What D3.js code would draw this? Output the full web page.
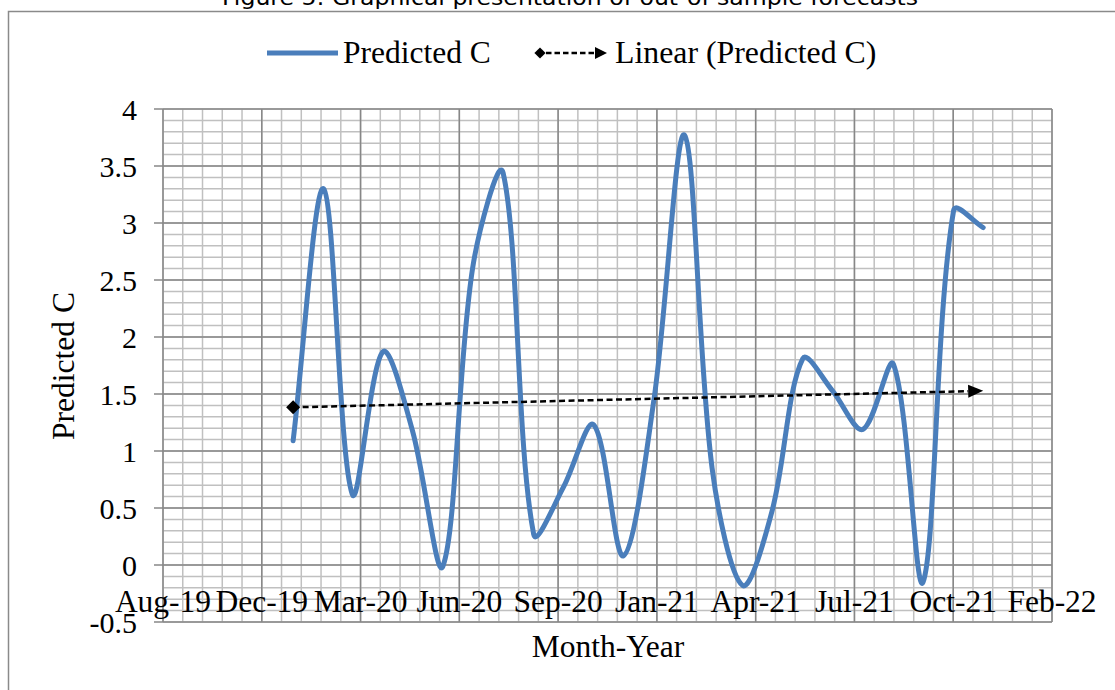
<!DOCTYPE html>
<html>
<head>
<meta charset="utf-8">
<script src="https://d3js.org/d3.v7.min.js"></script>
<style>
  html, body { margin: 0; padding: 0; background: #fff; }
  svg { display: block; }
</style>
</head>
<body>
<svg id="chart" width="1115" height="690"></svg>
<script>
// ---------- data ----------
const titleText = "Figure 5: Graphical presentation of out-of-sample forecasts";
const seriesName = "Predicted C";
const trendName = "Linear (Predicted C)";
const xAxisTitle = "Month-Year";
const yAxisTitle = "Predicted C";

const months = [
  "2020-01-01","2020-02-01","2020-03-01","2020-04-01","2020-05-01","2020-06-01",
  "2020-07-01","2020-08-01","2020-09-01","2020-10-01","2020-11-01","2020-12-01",
  "2021-01-01","2021-02-01","2021-03-01","2021-04-01","2021-05-01","2021-06-01",
  "2021-07-01","2021-08-01","2021-09-01","2021-10-01","2021-11-01","2021-12-01"
];
const predictedC = [
  1.09, 3.30, 0.62, 1.87, 1.18, -0.01,
  2.60, 3.44, 0.27, 0.68, 1.23, 0.08,
  1.45, 3.77, 0.85, -0.18, 0.48, 1.81,
  1.53, 1.19, 1.76, -0.15, 3.11, 2.96
];
const xTickLabels = ["Aug-19","Dec-19","Mar-20","Jun-20","Sep-20","Jan-21","Apr-21","Jul-21","Oct-21","Feb-22"];
const axisStart = "2019-08-22";
const majorUnitDays = 100.2;
const yTicks = [-0.5, 0, 0.5, 1, 1.5, 2, 2.5, 3, 3.5, 4];
const yTickLabels = ["-0.5","0","0.5","1","1.5","2","2.5","3","3.5","4"];

// ---------- layout ----------
const L = 163, R = 1052, T = 109, B = 622;
const serif = "'Liberation Serif', 'Times New Roman', serif";
const blue = "#4a7ebb";
const DAY = 864e5;

const svg = d3.select("#chart");
const t0 = new Date(axisStart + "T00:00:00Z").getTime();
const xDays = d => (new Date(d + "T00:00:00Z").getTime() - t0) / DAY;

const x = d3.scaleLinear().domain([0, 9 * majorUnitDays]).range([L, R]);
const y = d3.scaleLinear().domain([-0.5, 4]).range([B, T]);

// outer chart border
svg.append("rect").attr("x", 8.5).attr("y", 11.5).attr("width", 1120).attr("height", 700)
  .attr("fill", "#fff").attr("stroke", "#8a8a8a").attr("stroke-width", 1.5);

// title (cut off at top)
svg.append("text").attr("x", 570).attr("y", 5).attr("text-anchor", "middle")
  .attr("font-family", "'DejaVu Sans', Tahoma, sans-serif").attr("font-size", 22)
  .attr("textLength", 696).attr("lengthAdjust", "spacingAndGlyphs")
  .attr("fill", "#000").text(titleText);

// ---------- grid ----------
const g = svg.append("g");
const minorX = d3.range(0, 46).map(i => i * majorUnitDays / 5);
const minorY = d3.range(0, 46).map(i => -0.5 + i * 0.1);

g.selectAll(".mx").data(minorX).join("line")
  .attr("x1", d => x(d)).attr("x2", d => x(d)).attr("y1", T).attr("y2", B)
  .attr("stroke", "#c0c0c0").attr("stroke-width", 1.5);
g.selectAll(".my").data(minorY).join("line")
  .attr("y1", d => y(d)).attr("y2", d => y(d)).attr("x1", L).attr("x2", R)
  .attr("stroke", "#c0c0c0").attr("stroke-width", 1.5);

const majorX = d3.range(0, 10).map(i => i * majorUnitDays);
g.selectAll(".Mx").data(majorX).join("line")
  .attr("x1", d => x(d)).attr("x2", d => x(d)).attr("y1", T).attr("y2", B)
  .attr("stroke", "#878787").attr("stroke-width", 1.5);
g.selectAll(".My").data(yTicks).join("line")
  .attr("y1", d => y(d)).attr("y2", d => y(d)).attr("x1", L - 9).attr("x2", R)
  .attr("stroke", "#878787").attr("stroke-width", 1.5);

// ---------- axes labels ----------
svg.append("g").selectAll("text").data(yTicks).join("text")
  .attr("x", 137).attr("y", d => y(d)).attr("dy", "0.35em")
  .attr("text-anchor", "end").attr("font-family", serif).attr("font-size", 30)
  .attr("fill", "#000").text((d, i) => yTickLabels[i]);

svg.append("g").selectAll("text").data(majorX).join("text")
  .attr("x", d => x(d)).attr("y", 612)
  .attr("text-anchor", "middle").attr("font-family", serif).attr("font-size", 31.5)
  .attr("fill", "#000").text((d, i) => xTickLabels[i]);

svg.append("text").attr("x", 608).attr("y", 657).attr("text-anchor", "middle")
  .attr("font-family", serif).attr("font-size", 31.5).attr("fill", "#000").text(xAxisTitle);

svg.append("text").attr("transform", "translate(74,366) rotate(-90)")
  .attr("text-anchor", "middle").attr("font-family", serif).attr("font-size", 31.5)
  .attr("fill", "#000").text(yAxisTitle);

// ---------- series (Excel-style smoothed Bezier) ----------
const pts = months.map((m, i) => ({ d: xDays(m), v: predictedC[i] }));
function smoothPath(P) {
  const p = d3.path();
  const dist = (a, b) => Math.hypot(b[0] - a[0], b[1] - a[1]);
  p.moveTo(P[0][0], P[0][1]);
  for (let i = 0; i < P.length - 1; i++) {
    const p0 = P[Math.max(i - 1, 0)], p1 = P[i], p2 = P[i + 1], p3 = P[Math.min(i + 2, P.length - 1)];
    const d01 = dist(p0, p1), d12 = dist(p1, p2), d23 = dist(p2, p3);
    const f1 = (d01 + d12) > 0 ? (2 / 6) * d12 / (d01 + d12) : 0;
    const f2 = (d12 + d23) > 0 ? (2 / 6) * d12 / (d12 + d23) : 0;
    const c1 = [p1[0] + f1 * (p2[0] - p0[0]), p1[1] + f1 * (p2[1] - p0[1])];
    const c2 = [p2[0] - f2 * (p3[0] - p1[0]), p2[1] - f2 * (p3[1] - p1[1])];
    p.bezierCurveTo(c1[0], c1[1], c2[0], c2[1], p2[0], p2[1]);
  }
  return p.toString();
}
svg.append("path").attr("d", smoothPath(pts.map(q => [x(q.d), y(q.v)])))
  .attr("fill", "none").attr("stroke", blue).attr("stroke-width", 5)
  .attr("stroke-linecap", "round").attr("stroke-linejoin", "round");

// ---------- linear trend ----------
const mx = d3.mean(pts, p => p.d), my = d3.mean(pts, p => p.v);
const slope = d3.sum(pts, p => (p.d - mx) * (p.v - my)) / d3.sum(pts, p => (p.d - mx) ** 2);
const icpt = my - slope * mx;
const d0 = pts[0].d, d1 = pts[pts.length - 1].d;
const tx0 = x(d0), ty0 = y(icpt + slope * d0), tx1 = x(d1), ty1 = y(icpt + slope * d1);
const ang = Math.atan2(ty1 - ty0, tx1 - tx0);
const headLen = 15;
svg.append("line").attr("x1", tx0).attr("y1", ty0)
  .attr("x2", tx1 - headLen * Math.cos(ang)).attr("y2", ty1 - headLen * Math.sin(ang))
  .attr("stroke", "#000").attr("stroke-width", 2.5).attr("stroke-dasharray", "6,3.5");
svg.append("path").attr("d", d3.symbol(d3.symbolDiamond2, 125)())
  .attr("transform", `translate(${tx0},${ty0})`).attr("fill", "#000");
svg.append("path")
  .attr("d", `M0,0 L${-headLen},-6.5 L${-headLen},6.5 Z`)
  .attr("transform", `translate(${tx1},${ty1}) rotate(${ang * 180 / Math.PI})`)
  .attr("fill", "#000");

// ---------- legend ----------
const lg = svg.append("g");
lg.append("line").attr("x1", 267).attr("x2", 338).attr("y1", 53).attr("y2", 53)
  .attr("stroke", blue).attr("stroke-width", 5);
lg.append("text").attr("x", 343).attr("y", 63).attr("font-family", serif).attr("font-size", 31.5)
  .attr("fill", "#000").text(seriesName);
lg.append("path").attr("d", d3.symbol(d3.symbolDiamond2, 80)())
  .attr("transform", "translate(540,53)").attr("fill", "#000");
lg.append("line").attr("x1", 546).attr("x2", 597).attr("y1", 53).attr("y2", 53)
  .attr("stroke", "#000").attr("stroke-width", 2.5).attr("stroke-dasharray", "5.5,3");
lg.append("path").attr("d", "M607,53 L595,47 L595,59 Z").attr("fill", "#000");
lg.append("text").attr("x", 615).attr("y", 63).attr("font-family", serif).attr("font-size", 31.8)
  .attr("fill", "#000").text(trendName);
</script>
</body>
</html>
